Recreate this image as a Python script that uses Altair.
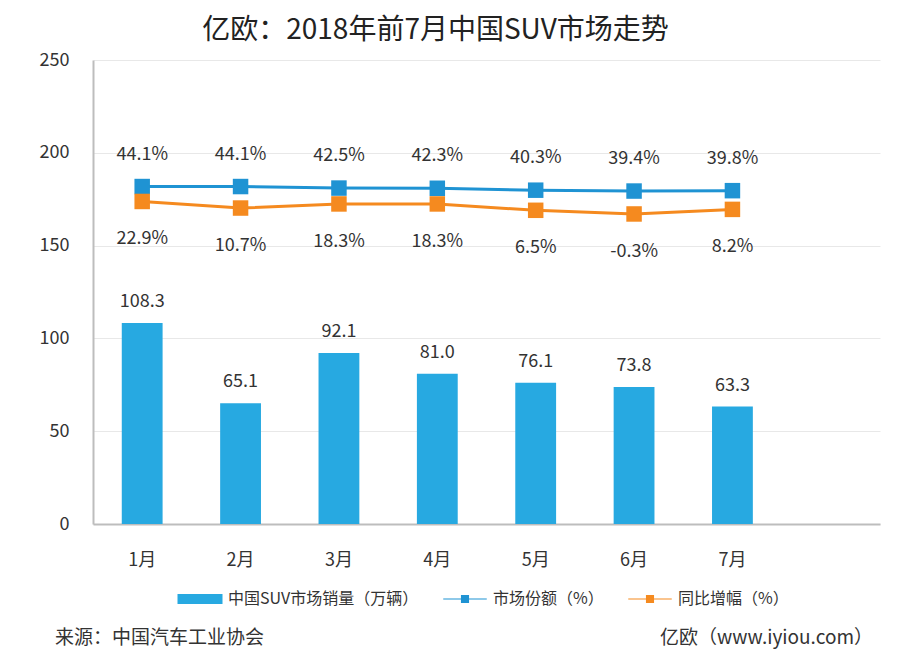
import altair as alt
import pandas as pd

# ---- data ----
months = ["1月", "2月", "3月", "4月", "5月", "6月", "7月"]
sales = [108.3, 65.1, 92.1, 81.0, 76.1, 73.8, 63.3]
share = [44.1, 44.1, 42.5, 42.3, 40.3, 39.4, 39.8]
growth = [22.9, 10.7, 18.3, 18.3, 6.5, -0.3, 8.2]
x_domain = months + [" "]
series = ["中国SUV市场销量（万辆）", "市场份额（%）", "同比增幅（%）"]
colors = ["#27a9e1", "#1f93d3", "#f58a1f"]
y_ticks = [0, 50, 100, 150, 200, 250]

FONT = "Noto Sans CJK SC"
TXT = "#333333"

df = pd.DataFrame({
    "month": months,
    "sales": sales,
    "share": share,
    "growth": growth,
})
df["sales_label"] = [f"{v:.1f}" for v in sales]
df["share_label"] = [f"{v:.1f}%" for v in share]
df["growth_label"] = [f"{v:.1f}%" for v in growth]

legend_df = pd.DataFrame({"series": series})
notes_df = pd.DataFrame({"left": ["来源：中国汽车工业协会"], "right": ["亿欧（www.iyiou.com）"]})

x_enc = alt.X(
    "month:N",
    sort=None,
    scale=alt.Scale(domain=x_domain, paddingInner=0.585, paddingOuter=0.2925),
    axis=alt.Axis(
        title=None, labelAngle=0, ticks=False, labelPadding=27,
        labelFontSize=18, labelFont=FONT, labelColor=TXT,
        domainColor="#bdbdbd", domainWidth=2, grid=False,
    ),
)

base = alt.Chart(df)

# bars (primary axis)
y_sales = alt.Y(
    "sales:Q",
    scale=alt.Scale(domain=[0, 250], nice=False),
    axis=alt.Axis(
        title=None, values=y_ticks, ticks=False, labelPadding=24,
        labelFontSize=18, labelFont=FONT, labelColor=TXT,
        domainColor="#bdbdbd", domainWidth=2,
        gridColor="#e8e8e8", gridWidth=1,
    ),
)
bars = base.mark_bar(color=colors[0]).encode(x=x_enc, y=y_sales)
bar_text = base.mark_text(dy=-21, baseline="middle", fontSize=18, font=FONT, color=TXT).encode(
    x=x_enc, y=y_sales, text="sales_label:N"
)
sales_layer = alt.layer(bars, bar_text)

# market share (hidden secondary scale)
y_share = alt.Y("share:Q", scale=alt.Scale(domain=[-307.4, 175.9], nice=False, zero=False), axis=None)
share_line = base.mark_line(color=colors[1], strokeWidth=3).encode(x=x_enc, y=y_share)
share_pts = base.mark_square(size=240, color=colors[1], opacity=1).encode(x=x_enc, y=y_share)
share_text = base.mark_text(dy=-32, baseline="middle", fontSize=18, font=FONT, color=TXT).encode(
    x=x_enc, y=y_share, text="share_label:N"
)
share_layer = alt.layer(share_line, share_pts, share_text)

# growth (hidden tertiary scale)
y_growth = alt.Y("growth:Q", scale=alt.Scale(domain=[-575.6, 285.4], nice=False, zero=False), axis=None)
growth_line = base.mark_line(color=colors[2], strokeWidth=3).encode(x=x_enc, y=y_growth)
growth_pts = base.mark_square(size=240, color=colors[2], opacity=1).encode(x=x_enc, y=y_growth)
growth_text = base.mark_text(dy=38, baseline="middle", fontSize=18, font=FONT, color=TXT).encode(
    x=x_enc, y=y_growth, text="growth_label:N"
)
growth_layer = alt.layer(growth_line, growth_pts, growth_text)

# legend (invisible carrier layer)
paths = [
    "M-1.5,-0.33H1.5V0.33H-1.5Z",
    "M-1.45,-0.04H1.45V0.04H-1.45Z M-0.27,-0.27H0.27V0.27H-0.27Z",
    "M-1.45,-0.04H1.45V0.04H-1.45Z M-0.27,-0.27H0.27V0.27H-0.27Z",
]
leg = alt.Legend(
    title=None, orient="none", legendX=92, legendY=524, direction="horizontal",
    symbolSize=900, symbolStrokeWidth=0, symbolOpacity=1,
    labelFont=FONT, labelFontSize=16, labelColor=TXT, labelOffset=13, labelLimit=400,
    columnPadding=24,
)
legend_layer = alt.Chart(legend_df).mark_point(filled=True, opacity=0).encode(
    color=alt.Color("series:N", sort=series, scale=alt.Scale(domain=series, range=colors), legend=leg),
    shape=alt.Shape("series:N", sort=series, scale=alt.Scale(domain=series, range=paths), legend=leg),
)

# footnotes
note_left = alt.Chart(notes_df).mark_text(align="left", baseline="middle", fontSize=19, font=FONT, color=TXT).encode(
    x=alt.value(-38), y=alt.value(578), text="left:N"
)
note_right = alt.Chart(notes_df).mark_text(align="right", baseline="middle", fontSize=19, font=FONT, color=TXT).encode(
    x=alt.value(780), y=alt.value(578), text="right:N"
)

chart = alt.layer(
    sales_layer, share_layer, growth_layer, legend_layer, note_left, note_right
).resolve_scale(y="independent").properties(
    width=787,
    height=464,
    title=alt.TitleParams(
        "亿欧：2018年前7月中国SUV市场走势", fontSize=28, font=FONT, fontWeight="normal",
        color="#222222", anchor="middle", dx=-51, offset=6,
    ),
    autosize=alt.AutoSizeParams(type="none"),
    padding={"left": 93, "top": 60, "right": 20, "bottom": 138},
    background="white",
).configure_view(stroke=None)

chart.save("out.html", embed_options={"renderer": "svg", "actions": False})
